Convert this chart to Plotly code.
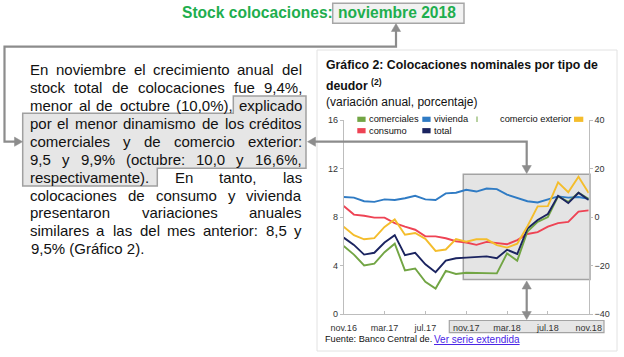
import plotly.graph_objects as go

W, H = 624, 357
FONT = "Liberation Sans, Arial, sans-serif"

# ---------------- data ----------------
months = ["nov.16", "dic.16", "ene.17", "feb.17", "mar.17", "abr.17", "may.17", "jun.17",
          "jul.17", "ago.17", "sep.17", "oct.17", "nov.17", "dic.17", "ene.18", "feb.18",
          "mar.18", "abr.18", "may.18", "jun.18", "jul.18", "ago.18", "sep.18", "oct.18", "nov.18"]
comerciales = [5.6, 4.9, 4.0, 4.15, 5.1, 5.8, 3.6, 3.75, 2.65, 2.1, 3.55, 3.3, 3.4, 3.4, 3.4, 3.35,
               5.0, 4.4, 6.8, 7.6, 8.0, 9.7, 9.25, 10.0, 9.5]
vivienda = [9.65, 9.6, 9.3, 9.25, 9.45, 9.4, 9.55, 9.75, 9.45, 9.4, 9.95, 10.0, 10.25, 10.1, 10.35, 10.3,
            9.85, 9.55, 9.3, 9.2, 9.45, 9.7, 9.6, 9.65, 9.5]
consumo = [8.9, 8.2, 8.1, 7.95, 7.95, 7.5, 7.2, 6.95, 6.4, 6.4, 6.25, 6.0, 5.9, 5.7, 5.95, 5.85,
           5.75, 6.1, 6.6, 6.75, 7.2, 7.5, 7.6, 8.45, 8.55]
total = [6.3, 5.7, 4.9, 5.05, 5.9, 6.5, 4.85, 5.05, 4.1, 3.45, 4.4, 4.6, 4.65, 4.7, 4.75, 4.6,
         5.3, 4.95, 7.05, 7.75, 8.25, 9.75, 9.15, 10.0, 9.4]
comercio_exterior = [-4.0, -7.5, -9.2, -8.7, -4.1, -1.0, -7.3, -6.6, -9.0, -14.0, -13.4, -9.1, -10.2,
                     -9.2, -9.2, -11.6, -12.6, -11.0, -3.8, 4.4, 4.5, 14.3, 10.2, 16.6, 9.9]
x_ticks = ["nov.16", "mar.17", "jul.17", "nov.17", "mar.18", "jul.18", "nov.18"]
y_left_ticks = [0, 4, 8, 12, 16]
y_right_ticks = [-40, -20, 0, 20, 40]

body_lines = [
    "En noviembre el crecimiento anual del",
    "stock total de colocaciones fue 9,4%,",
    "menor al de octubre (10,0%), explicado",
    "por el menor dinamismo de los créditos",
    "comerciales y de comercio exterior:",
    "9,5 y 9,9% (octubre: 10,0 y 16,6%,",
    "respectivamente). En tanto, las",
    "colocaciones de consumo y vivienda",
    "presentaron variaciones anuales",
    "similares a las del mes anterior: 8,5 y",
    "9,5% (Gráfico 2).",
]

C_GREEN, C_BLUE, C_RED, C_NAVY, C_YELLOW = "#72A544", "#2F7BC4", "#EE4354", "#1B2460", "#F4BD2C"
GRAY = "#8C8C8C"


def PX(x):
    return x / W


def PY(y):
    return 1 - y / H


AW = {' ': 278, '%': 889, '(': 333, ')': 333, ',': 278, '.': 278, ':': 278, 'E': 667, 'G': 778,
      'a': 556, 'b': 556, 'c': 500, 'd': 556, 'e': 556, 'f': 278, 'g': 556, 'h': 556, 'i': 222,
      'j': 222, 'k': 500, 'l': 222, 'm': 833, 'n': 556, 'o': 556, 'p': 556, 'q': 556, 'r': 333,
      's': 500, 't': 278, 'u': 556, 'v': 500, 'w': 722, 'x': 500, 'y': 500, 'z': 500,
      'á': 556, 'é': 556, 'í': 278, 'ó': 556, 'ú': 556}
for d in "0123456789":
    AW[d] = 556


def tw(s, size):
    return sum(AW.get(c, 556) for c in s) * size / 1000.0


fig = go.Figure()

series = [("vivienda", vivienda, C_BLUE, "y"), ("consumo", consumo, C_RED, "y"),
          ("comerciales", comerciales, C_GREEN, "y"), ("total", total, C_NAVY, "y"),
          ("comercio exterior", comercio_exterior, C_YELLOW, "y2")]
for name, vals, col, ax in series:
    fig.add_trace(go.Scatter(x=months, y=vals, name=name, mode="lines", yaxis=ax,
                             line=dict(color=col, width=1.9), showlegend=False,
                             hoverinfo="skip"))

shapes = []
ann = []


def ppath(pts, close=False):
    s = "M " + " L ".join(f"{PX(a):.5f},{PY(b):.5f}" for a, b in pts)
    return s + (" Z" if close else "")


# chart panel border
shapes.append(dict(type="rect", xref="paper", yref="paper", x0=PX(317), x1=PX(617), y0=PY(351), y1=PY(50),
                   line=dict(color="#E2E2E2", width=1), fillcolor="rgba(0,0,0,0)", layer="below"))
# grey highlight box in chart
shapes.append(dict(type="rect", xref="paper", yref="paper", x0=PX(463.3), x1=PX(590), y0=PY(279.5), y1=PY(174.3),
                   line=dict(color="#A3A3A3", width=1.5), fillcolor="#E4E4E4", layer="below"))
# box around x tick labels
shapes.append(dict(type="rect", xref="paper", yref="paper", x0=PX(449.3), x1=PX(604), y0=PY(332.7), y1=PY(320.5),
                   line=dict(color="#A3A3A3", width=1.2), fillcolor="#E6E6E6", layer="below"))
# title box
shapes.append(dict(type="rect", xref="paper", yref="paper", x0=PX(332.7), x1=PX(464), y0=PY(23.3), y1=PY(3.3),
                   line=dict(color="#A6A6A6", width=1.5), fillcolor="#F2F2F2", layer="below"))
# text highlight polygon
poly = [(233.3, 96), (306, 96), (306, 168.3), (157.3, 168.3), (157.3, 186), (22.7, 186), (22.7, 113.3),
        (233.3, 113.3)]
shapes.append(dict(type="path", xref="paper", yref="paper", path=ppath(poly, True),
                   line=dict(color="#A0A0A0", width=1.5), fillcolor="#E6E6E6", layer="below"))


def polyline(pts, width=2.2):
    shapes.append(dict(type="path", xref="paper", yref="paper", path=ppath(pts),
                       line=dict(color=GRAY, width=width), layer="above"))


def tri(tx, ty, d, L=8.0, hw=4.6):
    if d == "up":
        pts = [(tx, ty), (tx - hw, ty + L), (tx + hw, ty + L)]
    elif d == "down":
        pts = [(tx, ty), (tx - hw, ty - L), (tx + hw, ty - L)]
    elif d == "left":
        pts = [(tx, ty), (tx + L, ty - hw), (tx + L, ty + hw)]
    else:
        pts = [(tx, ty), (tx - L, ty - hw), (tx - L, ty + hw)]
    shapes.append(dict(type="path", xref="paper", yref="paper", path=ppath(pts, True),
                       line=dict(color=GRAY, width=0.5), fillcolor=GRAY, layer="above"))


# connector from title to text
polyline([(396, 30), (396, 46.7), (4.5, 46.7), (4.5, 141.7), (16, 141.7)])
tri(396, 23.5, "up")
tri(22.5, 141.7, "right")
# connector from chart box to text
polyline([(526.7, 167), (526.7, 141.7), (314, 141.7)])
tri(526.7, 173.5, "down")
tri(307.5, 141.7, "left")
# double arrow below box
polyline([(526.7, 287), (526.7, 313)])
tri(526.7, 281, "up")
tri(526.7, 319.5, "down")

# ---- title ----
ann.append(dict(x=PX(181), y=PY(12.7), xref="paper", yref="paper", xanchor="left", yanchor="middle",
                text="<b>Stock colocaciones:</b>", showarrow=False, borderpad=0,
                font=dict(family=FONT, size=15.6, color="#1EAE4E")))
ann.append(dict(x=PX(336.5), y=PY(12.7), xref="paper", yref="paper", xanchor="left", yanchor="middle",
                text="<b>noviembre 2018</b>", showarrow=False, borderpad=0,
                font=dict(family=FONT, size=15.6, color="#1EAE4E")))

# ---- body text, justified ----
FS = 15
LEFT, RIGHT = 30.0, 302.0
for i, line in enumerate(body_lines):
    base = 75.0 + i * 17.9
    ymid = base - 0.35 * FS
    words = line.split(" ")
    if i == len(body_lines) - 1 or len(words) == 1:
        ann.append(dict(x=PX(LEFT), y=PY(ymid), xref="paper", yref="paper", xanchor="left",
                        yanchor="middle", text=line, showarrow=False, borderpad=0,
                        font=dict(family=FONT, size=FS, color="#111111")))
        continue
    widths = [tw(w, FS) for w in words]
    gap = (RIGHT - LEFT - sum(widths)) / (len(words) - 1)
    xpos = LEFT
    for w, wd in zip(words, widths):
        ann.append(dict(x=PX(xpos + wd / 2), y=PY(ymid), xref="paper", yref="paper", xanchor="center",
                        yanchor="middle", text=w, showarrow=False, borderpad=0,
                        font=dict(family=FONT, size=FS, color="#111111")))
        xpos += wd + gap

# ---- chart header ----
TS = 12.3
ann.append(dict(x=PX(324.5), y=PY(65.3), xref="paper", yref="paper", xanchor="left", yanchor="middle",
                text="<b>Gráfico 2: Colocaciones nominales por tipo de</b>", showarrow=False, borderpad=0,
                font=dict(family=FONT, size=TS, color="#111111")))
ann.append(dict(x=PX(324.5), y=PY(85.2), xref="paper", yref="paper", xanchor="left", yanchor="middle",
                text="<b>deudor <sup>(2)</sup></b>", showarrow=False, borderpad=0,
                font=dict(family=FONT, size=TS, color="#111111")))
ann.append(dict(x=PX(324.5), y=PY(101.6), xref="paper", yref="paper", xanchor="left", yanchor="middle",
                text="(variación anual, porcentaje)", showarrow=False, borderpad=0,
                font=dict(family=FONT, size=12, color="#111111")))

# ---- custom legend ----
LS = 9.3
legend_items = [("comerciales", C_GREEN, 357.3, 119.3), ("vivienda", C_BLUE, 422.3, 119.3),
                ("consumo", C_RED, 357.3, 130.7), ("total", C_NAVY, 422.3, 130.7)]
for name, col, lx, ly in legend_items:
    shapes.append(dict(type="rect", xref="paper", yref="paper", x0=PX(lx), x1=PX(lx + 8.3),
                       y0=PY(ly + 2.6), y1=PY(ly - 2.6), line=dict(width=0), fillcolor=col, layer="above"))
    ann.append(dict(x=PX(lx + 10.3), y=PY(ly), xref="paper", yref="paper", xanchor="left", yanchor="middle",
                    text=name, showarrow=False, borderpad=0, font=dict(family=FONT, size=LS, color="#111111")))
shapes.append(dict(type="rect", xref="paper", yref="paper", x0=PX(574), x1=PX(583.3),
                   y0=PY(121.9), y1=PY(116.7), line=dict(width=0), fillcolor=C_YELLOW, layer="above"))
ann.append(dict(x=PX(572), y=PY(119.3), xref="paper", yref="paper", xanchor="right", yanchor="middle",
                text="comercio exterior", showarrow=False, borderpad=0,
                font=dict(family=FONT, size=LS, color="#111111")))
shapes.append(dict(type="line", xref="paper", yref="paper", x0=PX(477), x1=PX(477), y0=PY(122), y1=PY(116.5),
                   line=dict(color=C_GREEN, width=1), layer="above"))

# ---- source ----
ann.append(dict(x=PX(324), y=PY(339.4), xref="paper", yref="paper", xanchor="left", yanchor="middle",
                text="Fuente: Banco Central de.", showarrow=False, borderpad=0,
                font=dict(family=FONT, size=9.2, color="#111111")))
ann.append(dict(x=PX(432.5), y=PY(339.4), xref="paper", yref="paper", xanchor="left", yanchor="middle",
                text="<span style='text-decoration:underline'>Ver serie extendida</span>", showarrow=False,
                borderpad=0, font=dict(family=FONT, size=10, color="#4A25E6")))

AXC = "#BDBDBD"
fig.update_layout(
    width=W, height=H, margin=dict(l=0, r=0, t=0, b=0, autoexpand=False),
    paper_bgcolor="white", plot_bgcolor="rgba(0,0,0,0)",
    font=dict(family=FONT, color="#222222"),
    showlegend=False,
    xaxis=dict(domain=[PX(343.7), PX(588.7)], type="category", categoryorder="array", categoryarray=months,
               range=[0, 24], tickmode="array", tickvals=x_ticks, ticktext=x_ticks,
               showline=True, linecolor=AXC, linewidth=1, ticks="inside", ticklen=3, tickcolor=AXC,
               showgrid=False, zeroline=False, tickfont=dict(family=FONT, size=9, color="#333333"),
               ticklabelstandoff=5, fixedrange=True, automargin=False),
    yaxis=dict(domain=[PY(314), PY(120)], range=[0, 16], tickmode="array", tickvals=y_left_ticks,
               showline=True, linecolor=AXC, linewidth=1, ticks="outside", ticklen=3, tickcolor=AXC,
               showgrid=False, zeroline=False, tickfont=dict(family=FONT, size=9, color="#333333"),
               fixedrange=True, automargin=False),
    yaxis2=dict(overlaying="y", side="right", anchor="x", range=[-40, 40], tickmode="array",
                tickvals=y_right_ticks, showline=True, linecolor=AXC, linewidth=1, ticks="outside",
                ticklen=3, tickcolor=AXC, showgrid=False, zeroline=False,
                tickfont=dict(family=FONT, size=9, color="#333333"), fixedrange=True, automargin=False),
    shapes=shapes,
    annotations=ann,
)

fig.write_html("out.html", config={"displayModeBar": False},
               post_script="document.body.style.margin='0';document.body.style.overflow='hidden';")
